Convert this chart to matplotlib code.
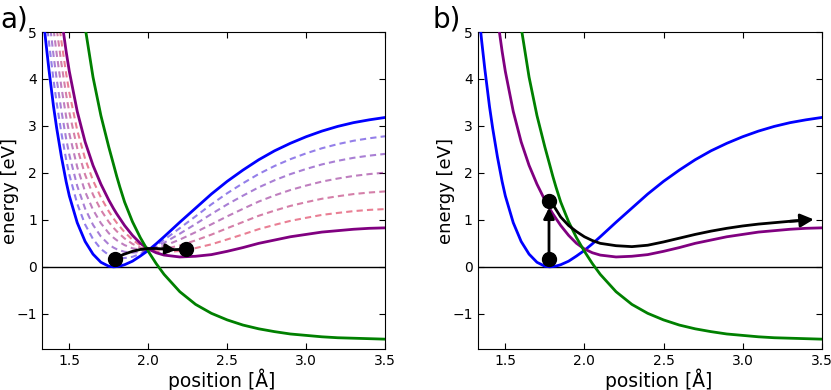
import matplotlib
matplotlib.use('Agg')
import matplotlib.pyplot as plt

plt.rcParams['font.family'] = 'DejaVu Sans'
plt.rcParams['xtick.direction'] = 'in'
plt.rcParams['ytick.direction'] = 'in'
plt.rcParams['xtick.top'] = True
plt.rcParams['ytick.right'] = True
plt.rcParams['xtick.major.size'] = 4
plt.rcParams['ytick.major.size'] = 4
plt.rcParams['xtick.labelsize'] = 10
plt.rcParams['ytick.labelsize'] = 10

# potential curves (position in Å, energy in eV)
position = [1.32, 1.33, 1.35, 1.37, 1.40, 1.42, 1.45, 1.48, 1.50, 1.55, 1.60, 1.65,
            1.70, 1.75, 1.78, 1.80, 1.82, 1.85, 1.90, 1.95, 2.00, 2.05, 2.10, 2.20,
            2.30, 2.40, 2.50, 2.60, 2.70, 2.80, 2.90, 3.00, 3.10, 3.20, 3.30, 3.40, 3.50]
e_ground = [5.83, 5.48, 4.82, 4.22, 3.41, 2.95, 2.34, 1.81, 1.51, 0.94, 0.54, 0.27,
            0.097, 0.012, 0.0, 0.005, 0.016, 0.045, 0.12, 0.23, 0.35, 0.49, 0.64, 0.95,
            1.25, 1.55, 1.82, 2.06, 2.28, 2.47, 2.63, 2.77, 2.89, 2.99, 3.07, 3.13, 3.18]
e_excited = [9.62, 9.21, 8.43, 7.71, 6.71, 6.11, 5.30, 4.58, 4.16, 3.31, 2.66, 2.16,
             1.76, 1.42, 1.24, 1.13, 1.03, 0.88, 0.67, 0.50, 0.38, 0.30, 0.25, 0.21,
             0.225, 0.26, 0.33, 0.41, 0.50, 0.57, 0.64, 0.69, 0.74, 0.77, 0.80, 0.82, 0.83]
e_repulsive = [13.5, 13.1, 12.4, 11.7, 10.7, 10.0, 9.1, 8.2, 7.6, 6.3, 5.1, 4.04,
               3.22, 2.55, 2.18, 1.93, 1.70, 1.38, 0.96, 0.62, 0.33, 0.07, -0.16, -0.53,
               -0.80, -0.99, -1.13, -1.24, -1.32, -1.38, -1.43, -1.46, -1.49, -1.51, -1.52, -1.53, -1.54]

# share of the excited curve in each dashed curve of panel a
mix_weights = [0.17, 0.33, 0.50, 0.67, 0.83]

# panel a: hop from ground to excited minimum
hop_x = [1.79, 1.84, 1.90, 1.95, 2.00, 2.05, 2.10, 2.15, 2.20, 2.236]
hop_y = [0.17, 0.26, 0.33, 0.37, 0.39, 0.39, 0.38, 0.365, 0.37, 0.38]
hop_dots_x = [1.79, 2.236]
hop_dots_y = [0.17, 0.38]

# panel b: vertical excitation then motion on the excited state
exc_dots_x = [1.776, 1.776]
exc_dots_y = [0.16, 1.40]
exc_arrow_top = 1.26
traj_x = [1.78, 1.80, 1.85, 1.90, 1.95, 2.00, 2.05, 2.10, 2.20, 2.30, 2.40, 2.50,
          2.60, 2.70, 2.80, 2.90, 3.00, 3.10, 3.20, 3.30, 3.40, 3.45]
traj_y = [1.40, 1.33, 1.06, 0.88, 0.75, 0.64, 0.56, 0.50, 0.45, 0.43, 0.46, 0.53,
          0.61, 0.69, 0.76, 0.82, 0.87, 0.91, 0.94, 0.97, 0.99, 1.01]

fig = plt.figure(figsize=(8.31, 3.9), dpi=100)
ax_a = fig.add_axes([0.0502, 0.1051, 0.4131, 0.8128])
ax_b = fig.add_axes([0.5748, 0.1051, 0.4140, 0.8128])


def draw_curves(ax):
    ax.axhline(0, color='k', lw=1, zorder=1)
    ax.plot(position, e_ground, color='blue', lw=2, zorder=3)
    ax.plot(position, e_excited, color='purple', lw=2, zorder=3)
    ax.plot(position, e_repulsive, color='green', lw=2, zorder=3)


# dashed mixtures of the ground and excited curves
for w in mix_weights:
    mixed = [(1 - w) * g + w * e for g, e in zip(e_ground, e_excited)]
    ax_a.plot(position, mixed, color=(w, 0, 1 - w), alpha=0.5, lw=1.5,
              linestyle=(0, (3, 2)), zorder=2)
draw_curves(ax_a)

ax_a.plot(hop_x, hop_y, color='k', lw=2, zorder=4)
ax_a.annotate('', xy=(2.175, 0.36), xytext=(2.09, 0.385),
              arrowprops=dict(arrowstyle='-|>', color='k', lw=2, mutation_scale=15,
                              shrinkA=0, shrinkB=0), zorder=5)
ax_a.plot(hop_dots_x, hop_dots_y, 'o', color='k', ms=10, zorder=6)

draw_curves(ax_b)
ax_b.annotate('', xy=(exc_dots_x[0], exc_arrow_top), xytext=(exc_dots_x[0], exc_dots_y[0]),
              arrowprops=dict(arrowstyle='-|>', color='k', lw=2, mutation_scale=16,
                              shrinkA=0, shrinkB=0), zorder=5)
ax_b.plot(traj_x[:-1], traj_y[:-1], color='k', lw=2, zorder=4)
ax_b.annotate('', xy=(traj_x[-1], traj_y[-1]), xytext=(traj_x[-3], traj_y[-3]),
              arrowprops=dict(arrowstyle='-|>', color='k', lw=2, mutation_scale=20,
                              shrinkA=0, shrinkB=0), zorder=5)
ax_b.plot(exc_dots_x, exc_dots_y, 'o', color='k', ms=10, zorder=6)

for ax in (ax_a, ax_b):
    ax.set_xlim(1.325, 3.5)
    ax.set_ylim(-1.75, 5)
    ax.set_xticks([1.5, 2.0, 2.5, 3.0, 3.5])
    ax.set_yticks([-1, 0, 1, 2, 3, 4, 5])
    ax.set_xlabel('position [Å]', fontsize=13.5)
    ax.set_ylabel('energy [eV]', fontsize=13)
    ax.xaxis.set_label_coords(0.525, -0.063)
    ax.yaxis.set_label_coords(-0.066, 0.5)

fig.text(0.0, 0.915, 'a)', fontsize=20, va='bottom', ha='left')
fig.text(0.521, 0.915, 'b)', fontsize=20, va='bottom', ha='left')

fig.savefig('out.png', dpi=100)
